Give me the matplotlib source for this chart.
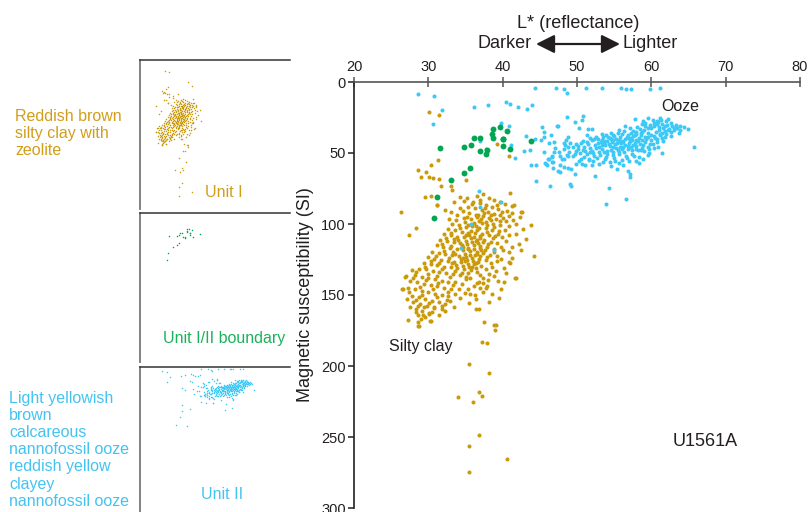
import matplotlib
matplotlib.use("Agg")
import matplotlib.pyplot as plt
import numpy as np

plt.rcParams['font.family'] = ['Liberation Sans', 'DejaVu Sans']

# ---- data: (L* reflectance, magnetic susceptibility SI) ----
silty_clay = [
    # scattered points above the main cloud
    (30.1, 21.3), (31.5, 23.4), (39.2, 43.5), (40.85, 52.2), (31.3, 55.0), (30.3, 58.5),
    (28.6, 62.0), (29.7, 63.7), (29.0, 66.9), (30.05, 66.9), (30.6, 67.9), (31.5, 68.6),
    (31.75, 73.5), (33.1, 73.0), (33.2, 75.8), (35.1, 69.0), (29.6, 81.2), (30.4, 80.3),
    (33.4, 84.3), (31.1, 86.6), (34.3, 80.9), (34.8, 83.8), (32.2, 90.4), (26.3, 91.8),
    (41.0, 78.2), (41.5, 86.8), (42.5, 91.5), (31.1, 86.9), (42.56, 91.8),
    # right edge of the cloud
    (43.8, 100.9), (44.2, 122.2), (41.3, 87.1), (40.9, 126.9), (41.8, 106.7), (42.25, 113.8),
    (42.5, 118.5), (41.8, 137.9), (41.0, 127.8), (40.4, 134.4), (39.8, 146.1), (39.4, 140.4),
    (36.8, 159.6), (41.7, 138.2), (38.0, 139.6), (37.9, 143.8), (36.5, 141.9), (36.95, 145.0),
    (35.6, 149.6), (36.4, 152.7), (36.46, 159.7), (34.3, 151.8), (33.4, 158.1), (32.5, 153.6),
    (31.8, 159.7), (30.7, 158.5), (30.1, 163.2), (29.24, 163.9), (28.4, 162.0), (28.6, 169.1),
    (28.8, 171.7), (30.3, 168.6), (38.9, 171.2),
    # left edge of the cloud
    (27.4, 107.9), (28.3, 103.0), (27.0, 136.7), (26.5, 145.6), (27.2, 167.9), (28.65, 171.8),
    (30.2, 168.3), (26.9, 137.2), (27.76, 132.5), (26.55, 145.7),
    # high-susceptibility tail
    (37.5, 169.0), (39.1, 171.3), (39.0, 174.6), (37.2, 183.0), (37.9, 183.7), (35.5, 198.3),
    (38.2, 204.6), (34.0, 222.1), (36.8, 218.2), (37.2, 221.0), (36.05, 225.0), (36.8, 248.6),
    (35.5, 256.5), (40.6, 265.2), (35.5, 274.3),
    # upper part of the cloud
    (35.2, 82.0), (36.5, 80.5), (37.3, 79.0), (38.1, 81.5), (38.9, 83.0), (39.6, 84.5),
    (40.3, 86.0), (36.0, 84.5), (37.0, 85.5), (37.8, 86.8), (38.6, 88.0), (39.4, 89.2),
    (40.6, 90.5), (41.2, 92.0), (35.4, 88.0), (36.3, 89.0), (37.2, 90.2), (38.0, 91.5),
    (38.8, 92.7), (39.7, 93.5), (40.1, 95.5), (34.6, 91.0), (35.5, 92.5), (36.4, 93.5),
    (37.3, 94.6), (38.2, 95.8), (39.1, 96.8), (33.8, 94.0), (34.8, 95.6), (35.8, 96.8),
    (36.8, 97.6), (37.8, 98.5), (38.7, 99.8), (39.6, 100.5), (40.5, 98.2), (41.4, 97.4),
    (42.3, 95.0),
    (33.7, 97.3), (34.9, 98.6), (36.6, 95.1), (38.4, 93.9), (39.9, 91.2), (37.6, 88.4),
    (35.9, 86.1), (34.2, 88.7), (33.1, 91.9), (32.8, 96.4), (36.7, 93.4), (37.5, 92.3),
    (35.2, 94.9), (38.4, 97.3), (39.3, 86.8), (36.9, 82.9), (40.9, 94.1), (41.8, 100.3),
    (42.7, 103.4), (43.1, 110.5),
    # core
    (33.2, 100.0), (34.1, 101.0), (35.0, 102.0), (35.9, 101.5), (36.8, 102.5), (37.7, 103.0),
    (38.6, 104.0), (39.5, 105.0), (40.3, 104.0), (32.6, 103.5), (33.6, 104.5), (34.5, 105.5),
    (35.4, 106.0), (36.3, 106.5), (37.2, 107.0), (38.1, 108.0), (39.0, 108.5), (39.9, 109.5),
    (32.1, 107.0), (33.0, 108.0), (33.9, 109.0), (34.8, 109.5), (35.7, 110.0), (36.6, 111.0),
    (37.5, 111.5), (38.4, 112.5), (39.3, 113.5), (31.6, 111.0), (32.5, 112.0), (33.4, 113.0),
    (34.3, 113.5), (35.2, 114.0), (36.1, 115.0), (37.0, 115.5), (37.9, 116.5), (38.8, 117.5),
    (31.1, 115.0), (32.0, 116.0), (32.9, 117.0), (33.8, 117.5), (34.7, 118.0), (35.6, 119.0),
    (36.5, 119.5), (37.4, 120.5), (38.3, 121.5), (40.5, 112.0), (41.2, 116.0), (40.8, 120.0),
    (30.5, 119.5), (31.4, 120.5), (32.3, 121.0), (33.2, 122.0), (34.1, 122.5), (35.0, 123.0),
    (35.9, 124.0), (36.8, 124.5), (37.7, 125.5), (29.9, 123.5), (30.8, 124.5), (31.7, 125.0),
    (32.6, 126.0), (33.5, 126.5), (34.4, 127.0), (35.3, 128.0), (36.2, 128.5), (37.1, 129.5),
    (29.4, 127.5), (30.3, 128.0), (31.2, 129.0), (32.1, 130.0), (33.0, 130.5), (33.9, 131.0),
    (34.8, 132.0), (35.7, 132.5), (36.6, 133.5), (28.8, 131.5), (29.7, 132.0), (30.6, 133.0),
    (31.5, 134.0), (32.4, 134.5), (33.3, 135.0), (34.2, 136.0), (35.1, 137.0), (38.5, 130.0),
    (39.2, 126.0), (38.2, 135.0), (37.3, 138.0),
    (35.5, 108.0), (36.2, 109.0), (36.9, 108.8), (35.1, 112.0), (35.9, 113.0), (36.7, 113.4),
    (37.4, 112.9), (34.6, 116.0), (35.4, 116.8), (36.2, 117.4), (36.9, 117.0), (37.6, 118.6),
    (34.9, 121.0), (35.6, 121.6), (36.3, 122.0), (37.0, 122.6), (34.4, 124.8), (35.2, 125.5),
    (36.0, 126.4), (36.7, 126.9), (34.7, 129.6), (35.5, 130.5), (36.4, 131.0), (33.7, 128.8),
    (33.3, 119.6), (34.0, 111.6), (36.5, 104.4), (37.9, 100.8), (36.1, 99.3), (37.1, 96.2),
    (35.3, 100.4), (36.4, 101.1), (37.2, 99.6), (38.9, 102.2), (40.8, 101.7), (39.6, 97.9),
    (34.3, 103.1), (33.1, 106.1), (35.8, 104.6), (37.9, 105.7), (39.4, 106.9), (40.9, 107.8),
    (38.7, 110.2), (37.0, 109.9), (35.1, 107.6), (33.5, 110.7), (32.4, 109.6), (31.8, 113.8),
    (33.0, 115.3), (34.5, 114.9), (36.4, 112.3), (38.0, 114.2), (39.8, 115.9), (40.0, 118.2),
    (38.9, 119.6), (37.1, 118.6), (35.3, 117.6), (33.6, 120.8), (32.1, 118.7), (31.0, 122.3),
    (32.8, 124.2), (34.6, 123.7), (36.5, 121.3), (37.9, 123.2), (39.3, 122.7), (38.4, 127.3),
    (36.4, 127.8), (34.9, 126.3), (33.2, 127.6), (31.5, 127.2), (30.3, 126.2), (29.6, 130.1),
    (31.9, 131.7), (33.6, 133.1), (35.4, 134.2), (36.9, 136.1), (35.9, 130.1), (37.7, 131.7),
    (39.1, 133.1), (34.5, 134.8), (39.8, 124.3), (41.3, 124.1), (40.2, 130.7),
    # lower-left lobe
    (28.2, 136.0), (29.1, 137.0), (30.0, 138.0), (30.9, 139.0), (31.8, 140.0), (32.7, 141.0),
    (33.6, 140.5), (27.6, 140.0), (28.5, 141.0), (29.4, 142.0), (30.3, 143.0), (31.2, 144.0),
    (32.1, 145.0), (33.0, 146.0), (27.3, 145.0), (28.2, 146.0), (29.1, 147.0), (30.0, 148.0),
    (30.9, 149.0), (31.8, 150.0), (32.7, 151.0), (27.8, 150.5), (28.7, 151.5), (29.6, 152.5),
    (30.5, 154.0), (31.4, 155.0), (32.3, 156.0), (28.0, 155.0), (28.9, 156.0), (29.8, 157.5),
    (30.7, 159.0), (28.3, 160.0), (29.2, 161.0), (30.1, 162.5), (28.6, 164.0), (29.5, 165.5),
    (34.5, 142.0), (35.4, 146.0), (36.3, 150.0), (35.1, 139.0), (36.8, 141.0), (37.7, 145.0),
    (38.6, 149.0), (39.5, 152.0),
    (32.9, 137.4), (31.1, 136.6), (29.9, 135.4), (28.4, 134.1), (27.9, 137.9), (29.7, 139.7),
    (31.3, 141.7), (33.3, 143.2), (34.1, 145.6), (32.6, 148.2), (30.6, 146.1), (28.9, 144.1),
    (27.4, 147.6), (29.2, 149.9), (31.1, 151.6), (33.6, 149.4), (32.9, 154.3), (30.1, 155.6),
    (28.3, 153.2), (27.1, 152.6), (29.4, 158.8), (31.9, 157.6), (30.5, 161.7), (29.0, 166.9),
    (27.6, 158.2), (28.6, 157.9), (31.4, 163.8), (32.2, 161.4), (35.6, 137.9), (36.1, 143.4),
    (38.9, 136.8), (37.4, 141.8), (40.2, 140.6), (35.5, 155.4), (34.9, 148.8), (37.3, 148.1),
    (38.2, 154.9),
]

ooze = [
    # scattered points near the top
    (28.6, 8.4), (30.7, 9.8), (31.8, 19.4), (30.6, 29.5), (36.2, 17.8), (38.0, 16.4),
    (40.4, 14.3), (41.0, 15.7), (42.1, 17.3), (43.3, 18.7), (44.0, 15.9), (44.3, 4.2),
    (47.2, 4.5), (48.2, 5.2), (48.65, 7.5), (51.25, 4.2), (53.4, 4.2), (55.9, 4.2),
    (56.55, 4.9), (57.2, 4.7), (59.8, 4.7), (61.1, 4.5),
    (36.9, 41.4), (40.9, 30.7), (41.1, 44.5), (41.7, 53.4), (37.8, 47.1), (39.8, 28.8),
    (43.2, 38.2), (44.35, 40.0), (45.25, 31.4), (45.5, 35.1), (45.6, 38.4), (45.1, 40.5),
    (46.5, 37.0), (46.2, 42.8), (47.1, 46.8), (47.3, 30.9), (42.9, 48.7), (43.7, 48.2),
    (45.5, 49.6), (46.7, 52.9), (46.1, 54.5), (45.8, 57.6), (46.6, 56.4), (44.5, 58.8),
    (43.8, 58.5), (46.8, 60.4), (44.55, 70.0), (46.4, 73.3),
    (39.8, 84.3), (36.8, 77.0), (36.9, 88.3), (35.8, 100.2), (34.4, 116.6), (38.8, 118.5),
    (48.7, 24.8), (50.75, 24.1), (50.7, 26.5), (49.7, 27.9), (47.4, 31.1), (50.3, 32.5),
    (51.5, 33.2), (52.0, 33.2), (48.8, 38.6), (48.5, 40.5), (48.35, 44.2), (46.9, 42.4),
    (46.9, 49.2), (46.68, 52.4), (46.19, 54.1), (47.71, 52.2), (47.94, 54.1), (48.83, 52.0),
    (49.42, 52.4), (45.69, 56.7), (45.92, 58.1), (46.81, 56.4), (47.71, 58.3), (48.29, 59.9),
    (47.4, 62.5), (47.67, 63.5), (48.83, 60.6), (49.24, 61.6), (49.77, 64.6), (50.63, 57.8),
    (49.86, 57.6), (50.22, 55.5), (51.12, 58.3), (51.57, 54.8), (51.97, 58.5), (52.42, 66.3),
    (49.06, 71.9), (49.19, 73.1), (54.35, 74.7), (53.85, 86.2), (56.63, 82.4), (56.9, 62.5),
    (57.08, 64.9), (57.17, 67.2), (58.38, 56.7), (57.98, 55.7), (60.36, 46.6), (61.39, 50.1),
    (65.69, 45.7),
    # main ooze cloud
    (58.5, 33.0), (59.2, 31.0), (59.8, 30.0), (60.3, 29.0), (60.9, 28.5), (61.5, 29.5),
    (62.1, 30.5), (62.8, 31.0), (61.0, 31.5), (60.0, 32.5), (59.0, 34.0), (58.0, 35.0),
    (57.3, 36.0), (62.4, 33.0), (63.1, 34.0), (61.8, 34.5), (60.6, 35.0), (59.6, 36.0),
    (58.6, 37.5), (57.6, 38.0), (56.8, 37.0), (63.5, 32.5), (62.0, 27.5), (59.5, 25.5),
    (60.2, 26.5), (58.9, 27.5), (61.3, 26.8), (57.8, 25.8), (56.5, 31.0), (55.7, 34.0),
    (52.0, 41.0), (52.8, 40.0), (53.5, 39.0), (54.2, 38.5), (55.0, 38.0), (55.8, 39.0),
    (56.5, 40.0), (57.2, 39.5), (58.0, 40.5), (58.8, 41.0), (59.5, 39.0), (60.3, 38.0),
    (61.2, 37.5), (62.0, 36.5), (53.2, 42.0), (54.0, 41.5), (54.8, 41.0), (55.5, 42.0),
    (56.2, 42.5), (57.0, 43.0), (57.8, 42.8), (58.5, 43.5), (59.2, 42.5), (60.0, 41.0),
    (60.8, 40.2), (61.5, 39.5), (51.3, 42.5), (50.5, 43.0), (49.8, 44.0),
    (49.5, 46.0), (50.2, 47.0), (51.0, 45.5), (51.7, 46.5), (52.4, 44.5), (53.0, 45.8),
    (53.7, 44.2), (54.4, 45.3), (55.1, 44.0), (55.8, 45.5), (56.5, 44.6), (57.3, 46.0),
    (58.0, 45.0), (58.7, 46.5), (59.5, 45.5), (60.2, 44.0), (50.8, 48.0), (52.0, 48.5),
    (53.3, 47.5), (54.6, 47.8), (55.5, 48.2), (56.8, 47.5), (58.2, 48.0), (59.0, 48.8),
    (48.8, 45.5), (48.2, 47.0),
    (50.4, 50.0), (51.3, 51.0), (52.2, 50.2), (53.1, 51.5), (54.0, 50.4), (54.9, 51.6),
    (55.7, 50.5), (56.6, 52.0), (57.4, 50.8), (58.3, 52.5), (52.7, 53.5), (53.8, 54.0),
    (55.0, 53.2), (56.0, 55.0), (51.6, 54.5), (54.4, 56.0), (55.6, 57.0), (57.0, 55.8),
    (49.7, 50.5), (48.6, 51.5), (47.6, 49.5), (48.3, 54.5), (53.0, 58.0), (54.6, 59.5),
    (55.4, 61.0), (56.2, 58.4),
    (53.6, 43.0), (54.7, 42.6), (55.9, 43.3), (57.1, 41.6), (58.4, 39.2), (59.9, 37.0),
    (61.0, 33.8), (62.6, 35.0), (56.1, 36.4), (57.5, 34.5), (58.1, 32.0), (60.4, 30.8),
    (61.6, 32.2), (59.1, 38.6), (57.8, 37.2), (56.9, 45.1), (55.3, 46.6), (54.1, 48.9),
    (52.9, 49.3), (51.8, 49.6), (53.9, 52.6), (56.3, 49.2), (57.9, 47.2), (59.8, 43.4),
    (60.7, 42.2), (61.9, 38.6), (63.9, 33.6), (64.4, 32.0), (63.3, 30.2), (62.7, 29.0),
    (60.7, 27.2), (59.2, 28.8), (55.2, 40.2), (54.4, 39.6), (53.3, 40.8), (52.5, 38.6),
    (51.7, 39.6), (50.8, 41.2), (50.1, 45.2), (51.5, 44.0), (52.6, 46.8), (56.0, 46.9),
    (57.6, 44.3), (58.9, 44.2), (55.5, 35.8), (54.9, 37.0), (53.9, 37.6), (56.7, 38.5),
    (58.6, 36.2), (61.4, 35.8),
    (54.3, 43.8), (55.4, 43.1), (56.1, 41.2), (57.4, 40.8), (58.2, 41.9), (59.3, 40.4),
    (60.5, 39.1), (61.1, 36.3), (62.2, 34.1), (63.0, 32.1), (61.8, 30.9), (60.8, 29.9),
    (59.6, 32.7), (58.8, 35.4), (57.9, 36.9), (56.9, 39.6), (55.7, 40.9), (54.6, 40.3),
    (53.7, 41.2), (52.8, 42.9), (53.4, 44.6), (54.9, 46.1), (56.2, 46.1), (57.4, 47.6),
    (58.6, 47.7), (59.7, 46.9), (55.7, 49.3), (54.8, 49.5), (53.6, 49.2), (52.3, 51.8),
    (50.9, 52.6), (51.1, 48.7), (49.9, 48.6), (48.9, 49.1), (50.5, 54.3), (52.2, 55.9),
    (53.5, 56.1), (56.7, 53.6), (57.7, 52.1), (59.7, 49.9), (60.9, 45.7), (61.6, 41.8),
    (62.7, 37.9), (63.7, 35.8), (64.9, 33.3), (63.9, 31.2), (62.3, 26.4), (61.1, 25.4),
    (58.7, 29.5), (57.1, 32.6), (56.3, 34.2), (54.6, 35.6), (53.4, 36.3), (52.3, 40.2),
    (51.3, 37.6), (49.1, 42.7), (48.3, 43.2), (55.1, 55.3), (58.9, 54.2), (59.5, 51.3),
]

boundary = [
    (31.6, 46.6), (33.1, 69.0), (34.8, 45.6), (34.8, 64.1), (35.6, 60.6), (31.2, 81.2),
    (35.7, 44.5), (36.1, 39.3), (36.9, 39.3), (37.0, 48.7), (37.8, 50.8), (37.9, 48.0),
    (38.6, 36.7), (38.7, 33.2), (38.7, 39.1), (39.7, 31.8), (40.0, 40.2), (40.1, 40.0),
    (40.0, 45.2), (40.6, 34.4), (41.0, 47.5), (43.8, 41.9), (30.7, 95.5),
]

x_ticks = [20, 30, 40, 50, 60, 70, 80]
y_ticks = [0, 50, 100, 150, 200, 250, 300]

GOLD = '#C99A0B'
GOLD_TXT = '#D29E1A'
CYAN = '#3DC8F5'
CYAN_TXT = '#45C3F0'
GREEN = '#00A651'
GREEN_TXT = '#1AB25A'
INK = '#231F20'

W, H = 809, 512
fig = plt.figure(figsize=(W / 100, H / 100), dpi=100)


def frac_box(left, top, right, bottom):
    return [left / W, 1 - bottom / H, (right - left) / W, (bottom - top) / H]


def arr(pts):
    a = np.array(pts)
    return a[:, 0], a[:, 1]


gx, gy = arr(silty_clay)
cx, cy = arr(ooze)
bx, by = arr(boundary)

# ---- main scatter ----
ax = fig.add_axes(frac_box(354, 82, 800, 508))
ax.scatter(gx, gy, s=8.5, color=GOLD, lw=0, zorder=2)
ax.scatter(cx, cy, s=8.5, color=CYAN, lw=0, zorder=3)
ax.scatter(bx, by, s=18, color=GREEN, lw=0, zorder=4)

ax.set_xlim(20, 80)
ax.set_ylim(300, 0)
ax.set_xticks(x_ticks)
ax.set_yticks(y_ticks)
ax.xaxis.tick_top()
for side in ('bottom', 'right'):
    ax.spines[side].set_visible(False)
ax.spines['top'].set_color('#555555')
ax.spines['top'].set_linewidth(1.2)
ax.spines['left'].set_color(INK)
ax.spines['left'].set_linewidth(1.2)
ax.tick_params(axis='x', direction='inout', length=7, width=1.1, color='#555555',
               pad=2, labelsize=10.5, labelcolor=INK)
ax.tick_params(axis='y', direction='out', length=4.5, width=1.1, color=INK,
               pad=1.5, labelsize=10.5, labelcolor=INK)
ax.patch.set_alpha(0)

ax.text(61.4, 17.6, 'Ooze', fontsize=11.5, color=INK, ha='left', va='center')
ax.text(24.7, 186, 'Silty clay', fontsize=11.5, color=INK, ha='left', va='center')
ax.text(62.9, 253.5, 'U1561A', fontsize=13, color=INK, ha='left', va='center')

fig.text(305 / W, 1 - 295 / H, 'Magnetic susceptibility (SI)', rotation=90,
         fontsize=13, color=INK, ha='center', va='center')
fig.text(578 / W, 1 - 28 / H, 'L* (reflectance)', fontsize=13, color=INK,
         ha='center', va='baseline')
fig.text(532 / W, 1 - 48 / H, 'Darker', fontsize=13, color=INK, ha='right', va='baseline')
fig.text(622 / W, 1 - 48 / H, 'Lighter', fontsize=13, color=INK, ha='left', va='baseline')
fig.patches.append(matplotlib.patches.FancyArrowPatch(
    (536 / W, 1 - 44 / H), (620 / W, 1 - 44 / H), transform=fig.transFigure,
    arrowstyle='<|-|>,head_length=7,head_width=3.5', mutation_scale=1.6,
    color=INK, lw=1.6, shrinkA=0, shrinkB=0))

# ---- unit thumbnails ----
panels = [
    ((140, 60, 290, 209), gx, gy, GOLD, 'Unit I', GOLD_TXT, (205, 196.7)),
    ((140, 213, 290, 362), bx, by, GREEN, 'Unit I/II boundary', GREEN_TXT, (163, 343.3)),
    ((140, 367, 290, 516), cx, cy, CYAN, 'Unit II', CYAN_TXT, (201, 499.3)),
]
for box, px, py, col, label, tcol, (tx, ty) in panels:
    pa = fig.add_axes(frac_box(*box))
    pa.scatter(px, py, s=1.2, color=col, lw=0)
    pa.set_xlim(20, 80)
    pa.set_ylim(300, 0)
    pa.set_xticks([])
    pa.set_yticks([])
    for side in ('bottom', 'right'):
        pa.spines[side].set_visible(False)
    pa.spines['top'].set_color('#333333')
    pa.spines['top'].set_linewidth(1.1)
    pa.spines['left'].set_color('#777777')
    pa.spines['left'].set_linewidth(1.3)
    pa.patch.set_alpha(0)
    fig.text(tx / W, 1 - ty / H, label, fontsize=11.5, color=tcol, ha='left', va='baseline')

# multi-line captions: the baseline anchor refers to the last line
fig.text(15 / W, 1 - 155 / H, 'Reddish brown\nsilty clay with\nzeolite', fontsize=11.5,
         color=GOLD_TXT, ha='left', va='baseline', linespacing=1.15)
fig.text(9 / W, 1 - 505.7 / H,
         'Light yellowish\nbrown\ncalcareous\nnannofossil ooze\nreddish yellow\nclayey\nnannofossil ooze',
         fontsize=11.5, color=CYAN_TXT, ha='left', va='baseline', linespacing=1.18)

fig.savefig('out.png', dpi=100)
